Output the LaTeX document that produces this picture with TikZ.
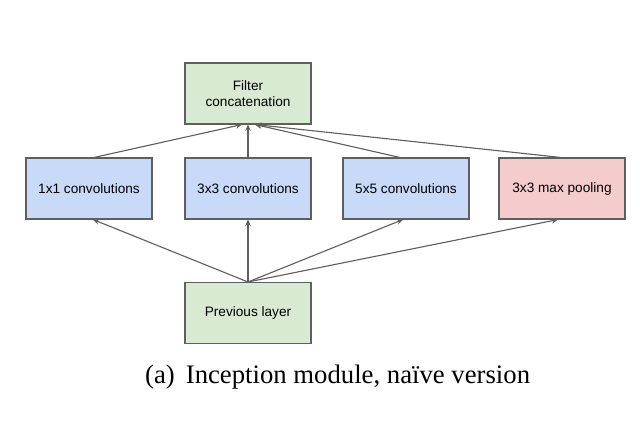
\documentclass[tikz,border=0pt]{standalone}
\usepackage{fontspec}
\setmainfont{Liberation Serif}
\setsansfont{Liberation Sans}
\usetikzlibrary{arrows.meta}
\definecolor{convblue}{HTML}{C9DAF8}
\definecolor{layergreen}{HTML}{D9EAD3}
\definecolor{poolred}{HTML}{F4CCCC}
\definecolor{edgegray}{HTML}{5F5F5F}
\begin{document}
\begin{tikzpicture}[
    box/.style={draw=edgegray, line width=0.75pt, minimum width=3.15cm, minimum height=1.525cm,
        inner sep=0pt, align=center, font=\sffamily\fontsize{9.7}{11}\selectfont},
    conv/.style={box, fill=convblue},
    green box/.style={box, fill=layergreen},
    pool/.style={box, fill=poolred},
    link/.style={draw=edgegray, line width=0.8pt, -{Stealth[length=4.5pt, width=4pt]}}
  ]
  \useasboundingbox (0,0) rectangle (16,10.55);
  \node[green box] (concat) at (6.2,8.2125) {Filter\\concatenation};
  \node[conv] (conv1) at (2.225,5.8375) {1x1 convolutions};
  \node[conv] (conv3) at (6.2,5.8375) {3x3 convolutions};
  \node[conv] (conv5) at (10.15,5.8375) {5x5 convolutions};
  \node[pool] (maxpool) at (14.05,5.8375) {3x3 max pooling};
  \node[green box] (prev) at (6.2,2.725) {Previous layer};
  \node (caption) at (8.44,1.125) {\fontsize{19}{22}\selectfont (a)\, Inception module, na\"ive version};
  % previous layer to the four branches
  \draw[link] (prev.north) -- ([xshift=0.1cm]conv1.south);
  \draw[link] (prev.north) -- (conv3.south);
  \draw[link] (prev.north) -- ([xshift=-0.075cm]conv5.south);
  \draw[link] (prev.north) -- ([xshift=-0.1cm]maxpool.south);
  % branches to the concatenation
  \draw[link] ([xshift=0.125cm]conv1.north) -- ([xshift=-0.15cm]concat.south);
  \draw[link] (conv3.north) -- (concat.south);
  \draw[link] ([xshift=-0.15cm]conv5.north) -- ([xshift=0.175cm]concat.south);
  \draw[link] ([xshift=-0.025cm]maxpool.north) -- ([xshift=0.175cm]concat.south);
\end{tikzpicture}
\end{document}
